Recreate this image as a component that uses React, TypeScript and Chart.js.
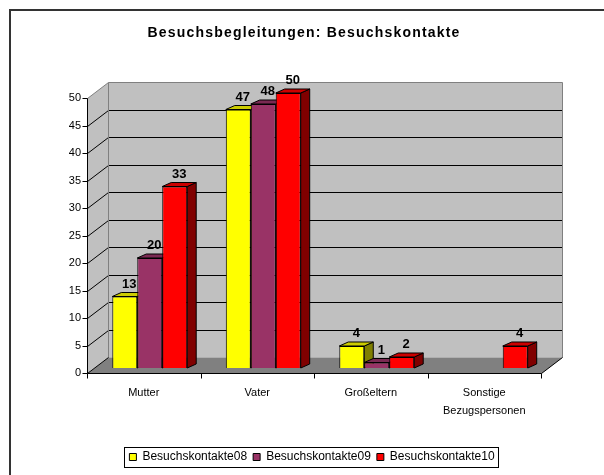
import React, { useEffect, useRef } from 'react';
import { Chart, registerables } from 'chart.js';

Chart.register(...registerables);

// ---- data ----
const categories: (string | string[])[] = ['Mutter', 'Vater', 'Großeltern', ['Sonstige', 'Bezugspersonen']];
const seriesNames = ['Besuchskontakte08', 'Besuchskontakte09', 'Besuchskontakte10'];
const values08 = [13, 47, 4, null];
const values09 = [20, 48, 1, null];
const values10 = [33, 50, 2, 4];
const yMin = 0;
const yMax = 50;
const yStep = 5;
const titleText = 'Besuchsbegleitungen: Besuchskontakte';

// ---- style ----
const frontColors = ['#FFFF00', '#993366', '#FF0000'];
const topColors = ['#CCCC00', '#7A2952', '#CC0000'];
const sideColors = ['#808000', '#4D1A33', '#800000'];

const BAR_DX = 9;
const BAR_DY = -4;
const FRONT_DX = -6;
const FRONT_DY = 5;
const WALL_DX = 21;
const WALL_DY = -16;

function poly(ctx: CanvasRenderingContext2D, pts: number[][], fill: string | null, stroke: string | null) {
  ctx.beginPath();
  ctx.moveTo(pts[0][0], pts[0][1]);
  for (let i = 1; i < pts.length; i++) ctx.lineTo(pts[i][0], pts[i][1]);
  ctx.closePath();
  if (fill) {
    ctx.fillStyle = fill;
    ctx.fill();
  }
  if (stroke) {
    ctx.strokeStyle = stroke;
    ctx.lineWidth = 1;
    ctx.stroke();
  }
}

function line(ctx: CanvasRenderingContext2D, x0: number, y0: number, x1: number, y1: number, color: string) {
  ctx.beginPath();
  ctx.moveTo(x0, y0);
  ctx.lineTo(x1, y1);
  ctx.strokeStyle = color;
  ctx.lineWidth = 1;
  ctx.stroke();
}

const scene3d = {
  id: 'scene3d',
  beforeDraw(chart: any) {
    const ctx = chart.ctx as CanvasRenderingContext2D;
    ctx.save();
    ctx.fillStyle = '#ffffff';
    ctx.fillRect(0, 0, chart.width, chart.height);
    ctx.strokeStyle = '#333333';
    ctx.lineWidth = 2;
    ctx.beginPath();
    ctx.moveTo(10, chart.height);
    ctx.lineTo(10, 10);
    ctx.lineTo(chart.width, 10);
    ctx.stroke();
    // title
    ctx.fillStyle = '#000000';
    ctx.font = "bold 14px 'Liberation Sans', Arial, sans-serif";
    (ctx as any).letterSpacing = '1.2px';
    ctx.textAlign = 'center';
    ctx.textBaseline = 'middle';
    ctx.fillText(titleText, 304, 33);
    (ctx as any).letterSpacing = '0px';
    ctx.restore();
  },
  beforeDatasetsDraw(chart: any) {
    const ctx = chart.ctx as CanvasRenderingContext2D;
    const ca = chart.chartArea;
    const y = chart.scales.y;
    const x = chart.scales.x;
    const fx0 = Math.round(ca.left + FRONT_DX) + 0.5;
    const fx1 = Math.round(ca.right + FRONT_DX) + 0.5;
    const bx0 = fx0 + WALL_DX;
    const bx1 = fx1 + WALL_DX;
    const fy = (v: number) => Math.round(y.getPixelForValue(v) + FRONT_DY) + 0.5;
    const by = (v: number) => fy(v) + WALL_DY;
    ctx.save();
    // back wall
    poly(ctx, [[bx0, by(yMax)], [bx1, by(yMax)], [bx1, by(yMin)], [bx0, by(yMin)]], '#C0C0C0', null);
    // left wall
    poly(ctx, [[fx0, fy(yMax)], [bx0, by(yMax)], [bx0, by(yMin)], [fx0, fy(yMin)]], '#C0C0C0', null);
    // floor
    poly(ctx, [[fx0, fy(yMin)], [fx1, fy(yMin)], [bx1, by(yMin)], [bx0, by(yMin)]], '#808080', null);
    // gridlines
    for (const t of y.ticks) {
      const v = t.value;
      if (v <= yMin || v >= yMax) continue;
      line(ctx, bx0, by(v), bx1, by(v), '#000000');
      line(ctx, fx0, fy(v), bx0, by(v), '#000000');
    }
    // wall edges (gray)
    line(ctx, fx0, fy(yMax), bx0, by(yMax), '#808080');
    line(ctx, bx0, by(yMax), bx1, by(yMax), '#808080');
    line(ctx, bx1, by(yMax), bx1, by(yMin), '#808080');
    line(ctx, bx0, by(yMax), bx0, by(yMin), '#808080');
    // floor edges
    line(ctx, fx0, fy(yMin), bx0, by(yMin), '#000000');
    line(ctx, fx1, fy(yMin), bx1, by(yMin), '#000000');
    // axes
    line(ctx, fx0, fy(yMax), fx0, fy(yMin), '#000000');
    line(ctx, fx0, fy(yMin), fx1, fy(yMin), '#000000');
    for (const t of y.ticks) {
      line(ctx, fx0 - 5, fy(t.value), fx0, fy(t.value), '#000000');
    }
    const n = categories.length;
    const half = (x.getPixelForValue(1) - x.getPixelForValue(0)) / 2;
    for (let i = 0; i <= n; i++) {
      const px = Math.round(x.getPixelForValue(i) - half + FRONT_DX) + 0.5;
      line(ctx, px, fy(yMin), px, fy(yMin) + 5, '#000000');
    }
    ctx.restore();
  },
  beforeDatasetDraw() {
    return false;
  },
  afterDatasetsDraw(chart: any) {
    const ctx = chart.ctx as CanvasRenderingContext2D;
    ctx.save();
    const nds = chart.data.datasets.length;
    for (let d = 0; d < nds; d++) {
      const meta = chart.getDatasetMeta(d);
      const data = chart.data.datasets[d].data;
      meta.data.forEach((el: any, i: number) => {
        if (data[i] === null || data[i] === undefined) return;
        const { x, y, base, width } = el.getProps(['x', 'y', 'base', 'width'], true);
        const l = x - width / 2;
        const r = x + width / 2;
        poly(ctx, [[r, base], [r + BAR_DX, base + BAR_DY], [r + BAR_DX, y + BAR_DY], [r, y]], sideColors[d], '#000000');
        poly(ctx, [[l, y], [l + BAR_DX, y + BAR_DY], [r + BAR_DX, y + BAR_DY], [r, y]], topColors[d], '#000000');
        el.draw(ctx);
      });
    }
    // value labels
    ctx.fillStyle = '#000000';
    ctx.font = "bold 13px 'Liberation Sans', Arial, sans-serif";
    ctx.textAlign = 'center';
    ctx.textBaseline = 'alphabetic';
    for (let d = 0; d < nds; d++) {
      const meta = chart.getDatasetMeta(d);
      const data = chart.data.datasets[d].data;
      meta.data.forEach((el: any, i: number) => {
        const v = data[i];
        if (v === null || v === undefined) return;
        const { x, y } = el.getProps(['x', 'y'], true);
        ctx.fillText(String(v), x + BAR_DX / 2, y + BAR_DY - 5);
      });
    }
    ctx.restore();
  },
  afterDraw(chart: any) {
    const lg = chart.legend;
    if (!lg || !lg.legendHitBoxes || !lg.legendHitBoxes.length) return;
    const hb = lg.legendHitBoxes;
    let minL = Infinity;
    let maxR = -Infinity;
    let cy = 0;
    for (const h of hb) {
      minL = Math.min(minL, h.left);
      maxR = Math.max(maxR, h.left + h.width);
      cy = h.top + h.height / 2;
    }
    const ctx = chart.ctx as CanvasRenderingContext2D;
    ctx.save();
    ctx.strokeStyle = '#000000';
    ctx.lineWidth = 1;
    ctx.strokeRect(Math.round(minL - 5) + 0.5, Math.round(cy - 10) + 0.5, Math.round(maxR - minL + 9), 20);
    ctx.restore();
  },
};

export default function App() {
  const ref = useRef<HTMLCanvasElement>(null);
  useEffect(() => {
    Chart.defaults.font.family = "'Liberation Sans', Arial, sans-serif";
    const seriesValues = [values08, values09, values10];
    const chart = new Chart(ref.current as HTMLCanvasElement, {
      type: 'bar',
      data: {
        labels: categories as any,
        datasets: seriesNames.map((name, i) => ({
          label: name,
          data: seriesValues[i] as any,
          backgroundColor: frontColors[i],
          borderColor: '#000000',
          borderWidth: 1,
          categoryPercentage: 0.66,
          barPercentage: 1,
        })),
      },
      options: {
        responsive: false,
        devicePixelRatio: 1,
        animation: false,
        layout: { padding: { left: 20, right: 0, top: 93, bottom: 2 } },
        scales: {
          x: {
            ticks: {
              padding: 16,
              labelOffset: -6,
              color: '#000000',
              font: { size: 11, lineHeight: 18 / 11 },
              maxRotation: 0,
              autoSkip: false,
            },
            grid: { display: false, drawTicks: false },
            border: { display: false },
            afterFit: (s: any) => {
              s.height = 77;
            },
          },
          y: {
            min: yMin,
            max: yMax,
            ticks: { stepSize: yStep, padding: 12, labelOffset: 5, color: '#000000', font: { size: 11 } },
            grid: { display: false, drawTicks: false },
            border: { display: false },
            afterFit: (s: any) => {
              s.width = 73;
            },
          },
          yR: {
            type: 'linear',
            position: 'right',
            display: true,
            ticks: { display: false },
            grid: { display: false, drawTicks: false },
            border: { display: false },
            afterFit: (s: any) => {
              s.width = 57;
            },
          },
        },
        plugins: {
          title: { display: false },
          legend: {
            position: 'bottom',
            labels: {
              boxWidth: 7,
              boxHeight: 7,
              padding: 6,
              color: '#000000',
              font: { size: 12 },
              sort: (a: any, b: any) => a.datasetIndex - b.datasetIndex,
            },
          },
          tooltip: { enabled: false },
        },
      } as any,
      plugins: [scene3d as any],
    });
    return () => chart.destroy();
  }, []);
  return (
    <div style={{ position: 'absolute', left: 0, top: 0, width: 604, height: 475, background: '#ffffff' }}>
      <canvas ref={ref} width={604} height={475} style={{ display: 'block', width: 604, height: 475 }} />
    </div>
  );
}
